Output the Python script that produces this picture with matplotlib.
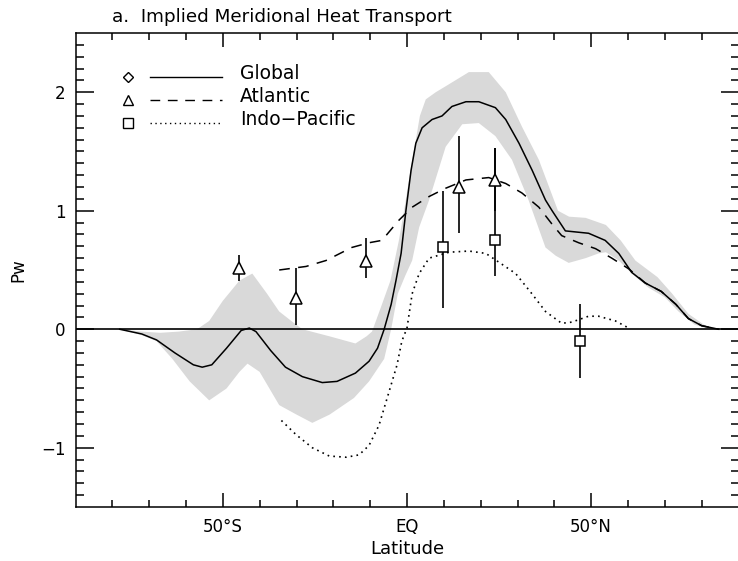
import numpy as np
import matplotlib
matplotlib.use("Agg")
import matplotlib.pyplot as plt

# ---------------- data ----------------
glob_lat = [-78, -72, -68, -63, -58, -55.6, -53, -49, -45, -42.8, -41, -37, -33, -28.4, -23, -19,
            -14, -10.3, -8, -6.2, -4.3, -3, -1.6, -0.3, 1.1, 2.4, 4.1, 6.8, 9.5, 12.2, 16, 19.5,
            24, 26.8, 30.4, 34, 37.6, 39.4, 43, 49.3, 53.8, 57.5, 61, 64.7, 69, 73, 76.4, 80, 84.6]
glob_val = [0.0, -0.04, -0.09, -0.2, -0.3, -0.32, -0.3, -0.16, -0.01, 0.01, -0.02, -0.18, -0.32,
            -0.40, -0.45, -0.44, -0.37, -0.27, -0.16, 0.0, 0.21, 0.41, 0.64, 1.0, 1.34, 1.57, 1.70,
            1.77, 1.80, 1.88, 1.92, 1.92, 1.87, 1.77, 1.57, 1.34, 1.09, 1.0, 0.83, 0.81, 0.75,
            0.64, 0.48, 0.39, 0.32, 0.21, 0.09, 0.03, 0.0]

band_up_lat = [-78, -72, -67, -62, -57, -53.7, -50, -45.5, -42, -38, -34.7, -31, -28.4, -21, -14,
               -11, -9.5, -6.8, -4.5, -2.2, -0.8, 1.0, 2.4, 3.5, 5.1, 7.8, 11, 16.8, 22.2, 26.8,
               31.2, 35.8, 41, 44, 48.5, 54, 58, 62, 68, 72, 76.4, 81, 85]
band_up_val = [0.0, -0.02, -0.03, -0.02, 0.0, 0.07, 0.24, 0.41, 0.47, 0.3, 0.15, 0.06, 0.0, -0.06,
               -0.12, -0.06, -0.02, 0.21, 0.41, 0.75, 1.0, 1.35, 1.6, 1.8, 1.94, 2.0, 2.06, 2.17,
               2.17, 2.0, 1.71, 1.43, 1.0, 0.95, 0.94, 0.88, 0.75, 0.58, 0.44, 0.30, 0.13, 0.03, 0.0]
band_lo_lat = [-78, -72, -68, -63.7, -59, -53.7, -49, -45.5, -43.3, -40, -34.7, -30, -25.7, -21,
               -14.4, -10.3, -6.2, -4.3, -2.5, -0.5, 1.4, 3.3, 6, 10.5, 15, 19.5, 24, 28.5, 33,
               37.6, 40.4, 43.9, 48.5, 52, 54, 57.5, 61, 65.6, 70, 73.7, 78, 82, 85]
band_lo_val = [0.0, -0.05, -0.1, -0.25, -0.44, -0.6, -0.5, -0.36, -0.29, -0.36, -0.64, -0.72, -0.79,
               -0.72, -0.58, -0.44, -0.25, 0.0, 0.3, 0.45, 0.58, 0.86, 1.09, 1.54, 1.73, 1.74, 1.63,
               1.43, 1.09, 0.69, 0.62, 0.56, 0.6, 0.64, 0.65, 0.58, 0.47, 0.35, 0.27, 0.15, 0.04,
               0.0, 0.0]

atl_lat = [-34.7, -27.4, -22, -15, -10.3, -6.8, -2.2, 1.4, 6, 10.5, 16, 22.2, 26.8, 31.2, 35.8,
           39.3, 42, 46.6, 51.2, 55.6, 60.2, 64.7, 69, 73, 76.4, 80, 84.6]
atl_val = [0.5, 0.53, 0.58, 0.69, 0.73, 0.75, 0.92, 1.03, 1.12, 1.19, 1.26, 1.28, 1.23, 1.15, 1.03,
           0.89, 0.79, 0.73, 0.68, 0.60, 0.51, 0.39, 0.32, 0.21, 0.09, 0.03, 0.0]

pac_lat = [-34.1, -30.1, -25.7, -21.1, -16.5, -13, -10.3, -7.6, -4.9, -2.7, -1.4, 0, 1.4, 3.3, 6,
           11.4, 16.8, 21.4, 25.7, 29.5, 33.9, 37.6, 42, 44.7, 49.3, 52, 56.6, 60.2]
pac_val = [-0.77, -0.89, -1.0, -1.07, -1.08, -1.06, -0.98, -0.81, -0.53, -0.3, -0.1, 0.01, 0.3,
           0.47, 0.6, 0.65, 0.66, 0.64, 0.55, 0.47, 0.3, 0.15, 0.05, 0.06, 0.11, 0.11, 0.07, 0.01]

atl_obs_lat = [-45.5, -30.1, -11.1, 14, 23.8]
atl_obs_val = [0.52, 0.26, 0.58, 1.2, 1.26]
atl_obs_lo = [0.41, 0.04, 0.43, 0.81, 1.0]
atl_obs_hi = [0.63, 0.52, 0.77, 1.63, 1.53]

pac_obs_lat = [9.8, 23.8, 46.9]
pac_obs_val = [0.69, 0.75, -0.1]
pac_obs_lo = [0.18, 0.45, -0.41]
pac_obs_hi = [1.17, 1.53, 0.21]

xtick_pos = [-50, 0, 50]
xtick_lab = ["50°S", "EQ", "50°N"]
ytick_pos = [-1, 0, 1, 2]
ytick_lab = ["\u22121", "0", "1", "2"]

legend_labels = ["Global", "Atlantic", "Indo\u2212Pacific"]

# ---------------- figure ----------------
plt.rcParams['font.family'] = ['DejaVu Sans']
fig = plt.figure(figsize=(7.38, 5.61), dpi=100)
L, R, B, T = 75.5 / 738, 738.5 / 738, 1 - 507 / 561, 1 - 33 / 561
ax = fig.add_axes([L, B, R - L, T - B])

grey = '#d9d9d9'
poly_x = np.concatenate([band_up_lat, band_lo_lat[::-1]])
poly_y = np.concatenate([band_up_val, band_lo_val[::-1]])
ax.fill(poly_x, poly_y, color=grey, lw=0, zorder=1)

ax.axhline(0, color='black', lw=1.2, zorder=2)

dash_pat = (7, 5.5)
dot_pat = (1, 2.5)
ax.plot(glob_lat, glob_val, color='black', lw=1.1, zorder=3)
ax.plot(atl_lat, atl_val, color='black', lw=1.1, dashes=dash_pat, zorder=3)
ax.plot(pac_lat, pac_val, color='black', lw=1.2, dashes=dot_pat, zorder=3)

# observations with error bars
a_lat = np.array(atl_obs_lat); a_val = np.array(atl_obs_val)
ax.errorbar(a_lat, a_val, yerr=[a_val - np.array(atl_obs_lo), np.array(atl_obs_hi) - a_val],
            fmt='none', ecolor='black', elinewidth=1.2, capsize=0, zorder=4)
ax.plot(a_lat, a_val, ls='none', marker='^', ms=8, mfc='white', mec='black', mew=1.1, zorder=5)
p_lat = np.array(pac_obs_lat); p_val = np.array(pac_obs_val)
ax.errorbar(p_lat, p_val, yerr=[p_val - np.array(pac_obs_lo), np.array(pac_obs_hi) - p_val],
            fmt='none', ecolor='black', elinewidth=1.2, capsize=0, zorder=4)
ax.plot(p_lat, p_val, ls='none', marker='s', ms=7.5, mfc='white', mec='black', mew=1.1, zorder=5)

ax.set_xlim(-90, 90)
ax.set_ylim(-1.5, 2.5)
ax.set_xticks(xtick_pos)
ax.set_xticklabels(xtick_lab)
ax.set_xticks(np.arange(-80, 90, 10), minor=True)
ax.set_yticks(ytick_pos)
ax.set_yticklabels(ytick_lab)
ax.set_yticks(np.arange(-1.4, 2.5, 0.1), minor=True)

for s in ax.spines.values():
    s.set_linewidth(1.1)
ax.tick_params(axis='x', which='major', direction='in', length=10, width=1.1,
               top=True, bottom=True, labelsize=12, pad=8)
ax.tick_params(axis='x', which='minor', direction='in', length=5, width=1.1, top=True, bottom=True)
ax.tick_params(axis='y', which='major', direction='in', length=13, width=1.1,
               left=True, right=True, labelsize=12, pad=7)
ax.tick_params(axis='y', which='minor', direction='in', length=6, width=1.1, left=True, right=True)

ax.set_xlabel("Latitude", fontsize=13)
ax.xaxis.set_label_coords(0.5, -0.07)
ax.set_ylabel("Pw", fontsize=12)
ax.yaxis.set_label_coords(-0.073, 0.5)

fig.text(112 / 738, 1 - 17 / 561, "a.  Implied Meridional Heat Transport", fontsize=13.2,
         ha='left', va='center')

# legend (drawn manually)
leg_y = [0.907, 0.859, 0.810]
markers = ['D', '^', 's']
msz = [5, 7, 7]
styles = [dict(ls='-'), dict(dashes=dash_pat), dict(dashes=dot_pat)]
for i in range(3):
    ax.plot([0.079], [leg_y[i]], transform=ax.transAxes, marker=markers[i], ms=msz[i],
            mfc='white', mec='black', mew=1.0, ls='none', clip_on=False)
    ax.plot([0.112, 0.221], [leg_y[i], leg_y[i]], transform=ax.transAxes, color='black',
            lw=1.0, **styles[i])
    ax.text(0.248, leg_y[i] + 0.008, legend_labels[i], transform=ax.transAxes, fontsize=13.5,
            ha='left', va='center')

fig.savefig("out.png", dpi=100)
